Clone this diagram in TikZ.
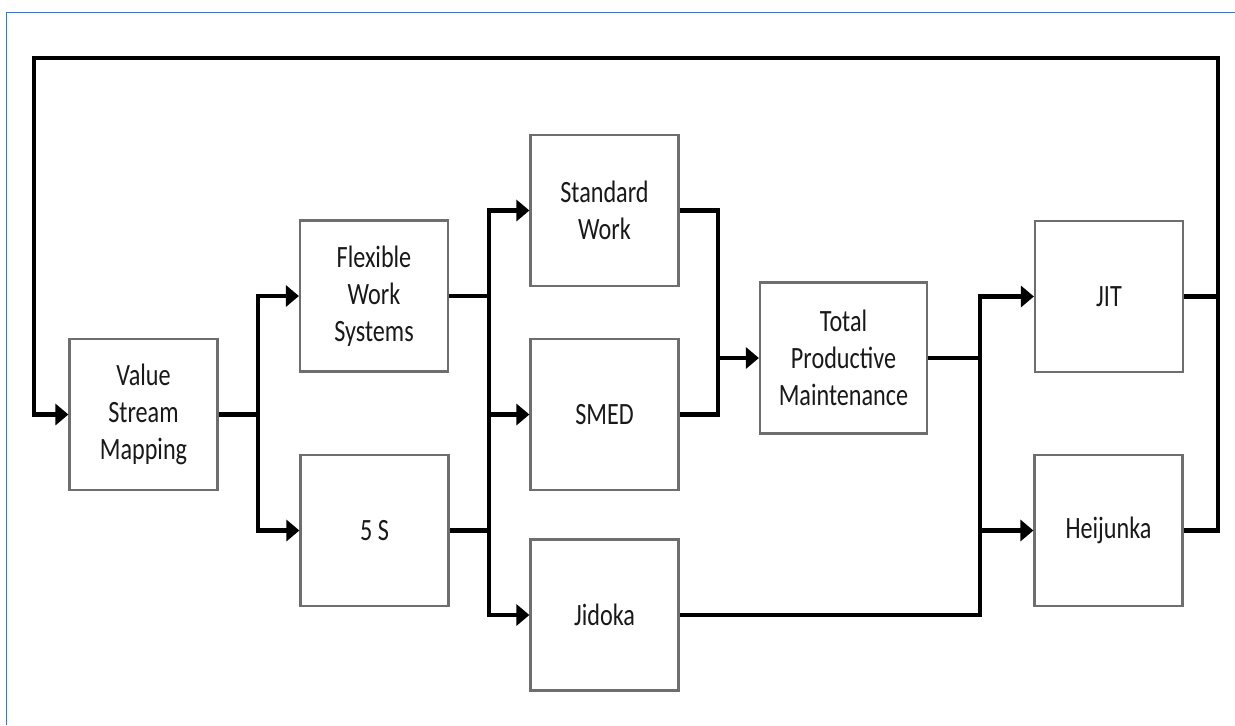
\documentclass[tikz,border=0pt]{standalone}
\usepackage{fontspec}
\setmainfont{Carlito}[FakeStretch=0.78]
\usetikzlibrary{arrows.meta}
\definecolor{framblue}{RGB}{68, 114, 196}
\definecolor{boxgray}{RGB}{110, 110, 110}

\begin{document}
\begin{tikzpicture}[x=0.5pt, y=-0.5pt,
    stage/.style={draw=boxgray, line width=1.1pt, fill=white, align=center,
        minimum width=74pt, minimum height=75.5pt, inner sep=2pt,
        text=black!90, font=\fontsize{15.5}{18.5}\selectfont},
    link/.style={line width=2.2pt},
    arr/.style={link, -{Triangle[length=6.5pt, width=10.5pt]}}]
    \useasboundingbox (0,0) rectangle (1235,725);
    % Frame
    \draw[framblue, line width=0.9pt] (6.5,725) -- (6.5,12.5) -- (1235,12.5);

    % Stages
    \node[stage] (vsm) at (143.5,414.5) {Value\\Stream\\Mapping};
    \node[stage] (fws) at (374,296) {Flexible\\Work\\Systems};
    \node[stage] (ss) at (374.5,530.5) {5 S};
    \node[stage] (sw) at (604.5,210.5) {Standard\\Work};
    \node[stage] (smed) at (604.5,414.5) {SMED};
    \node[stage] (jid) at (604.5,615) {Jidoka};
    \node[stage, minimum width=83.5pt] (tpm) at (843.5,358) {Total\\Productive\\Maintenance};
    \node[stage] (jit) at (1109,296.5) {JIT};
    \node[stage] (hei) at (1108.5,530.5) {Heijunka};

    % Junctions
    \coordinate (j1) at (258,414.5);
    \coordinate (j2) at (489,414.5);
    \coordinate (j3) at (718,358);
    \coordinate (j4) at (980,358);
    \coordinate (loopR) at (1218,58);
    \coordinate (loopL) at (34,58);

    % VSM splits
    \draw[link] (vsm.east) -- (j1);
    \draw[arr] (j1) |- (fws.west);
    \draw[arr] (j1) |- (ss.west);

    % Second level
    \draw[link] (fws.east) -- (fws.east -| j2);
    \draw[link] (ss.east) -- (ss.east -| j2);
    \draw[arr] (j2) |- (sw.west);
    \draw[arr] (j2) -- (smed.west);
    \draw[arr] (j2) |- (jid.west);

    % Into TPM
    \draw[link] (sw.east) -| (j3);
    \draw[link] (smed.east) -| (j3);
    \draw[arr] (j3) -- (tpm.west);

    % Into JIT and Heijunka
    \draw[link] (tpm.east) -- (j4);
    \draw[link] (jid.east) -| (j4);
    \draw[arr] (j4) |- (jit.west);
    \draw[arr] (j4) |- (hei.west);

    % Feedback loop
    \draw[link] (jit.east) -- (jit.east -| loopR);
    \draw[arr] (hei.east) -| (loopR) -- (loopL) |- (vsm.west);
\end{tikzpicture}
\end{document}
